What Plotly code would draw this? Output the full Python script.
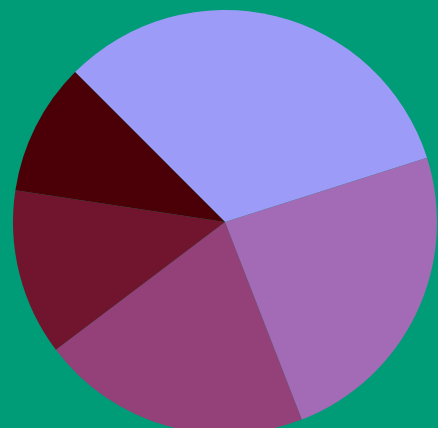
import plotly.graph_objects as go

labels = ["A", "B", "C", "D", "E"]
values = [32.6, 24.0, 20.6, 12.7, 10.1]
colors = ["#9d9bf8", "#a36ab6", "#944079", "#71152f", "#4a0006"]

fig = go.Figure(go.Pie(
    labels=labels,
    values=values,
    marker=dict(colors=colors, line=dict(width=0)),
    textinfo="none",
    hoverinfo="label+percent",
    sort=True,
    direction="clockwise",
    rotation=-45,
    showlegend=False,
))

fig.update_layout(
    width=438,
    height=436,
    margin=dict(l=13, r=1, t=10, b=2, pad=0),
    paper_bgcolor="#009b77",
    plot_bgcolor="#009b77",
    autosize=False,
)

fig.write_html(
    "out.html",
    post_script="document.body.style.overflow='hidden';document.documentElement.style.overflow='hidden';document.body.style.margin='0';",
)
